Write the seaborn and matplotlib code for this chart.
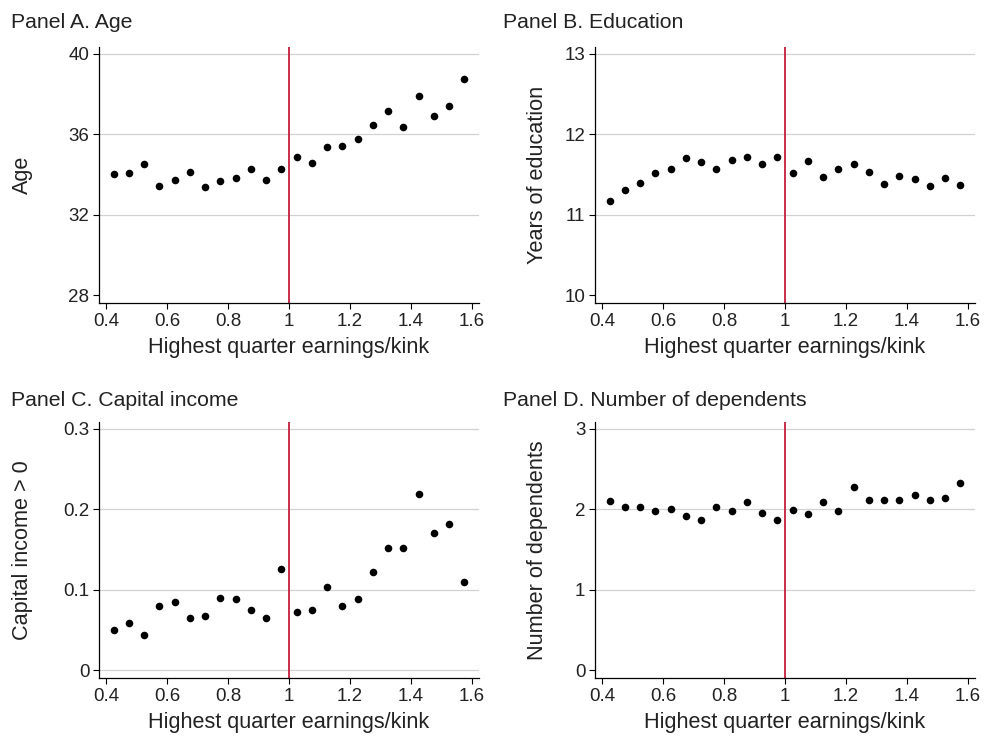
import numpy as np
import pandas as pd
import seaborn as sns
import matplotlib.pyplot as plt

# bin midpoints: highest quarter earnings / kink
earn_bins = [0.425, 0.475, 0.525, 0.575, 0.625, 0.675, 0.725, 0.775,
             0.825, 0.875, 0.925, 0.975, 1.025, 1.075, 1.125, 1.175,
             1.225, 1.275, 1.325, 1.375, 1.425, 1.475, 1.525, 1.575]

age = [34.02, 34.07, 34.51, 33.44, 33.71, 34.09, 33.36, 33.69,
       33.81, 34.24, 33.71, 34.27, 34.85, 34.57, 35.37, 35.40,
       35.75, 36.45, 37.16, 36.35, 37.88, 36.90, 37.41, 38.71]

education = [11.17, 11.31, 11.39, 11.51, 11.57, 11.70, 11.65, 11.57,
             11.68, 11.72, 11.63, 11.72, 11.51, 11.66, 11.46, 11.56,
             11.63, 11.53, 11.38, 11.48, 11.44, 11.36, 11.45, 11.37]

capital_income = [0.050, 0.058, 0.044, 0.080, 0.085, 0.065, 0.067, 0.090,
                  0.088, 0.075, 0.065, 0.125, 0.072, 0.075, 0.103, 0.080,
                  0.088, 0.122, 0.152, 0.152, 0.219, 0.170, 0.182, 0.109]

dependents = [2.095, 2.025, 2.025, 1.971, 1.996, 1.917, 1.859, 2.029,
              1.979, 2.091, 1.950, 1.867, 1.983, 1.934, 2.087, 1.975,
              2.274, 2.108, 2.108, 2.108, 2.170, 2.112, 2.141, 2.328]

x_ticks = [0.4, 0.6, 0.8, 1.0, 1.2, 1.4, 1.6]
x_ticklabels = ["0.4", "0.6", "0.8", "1", "1.2", "1.4", "1.6"]

panels = [
    ("Panel A. Age", "Age", age, [28, 32, 36, 40], ["28", "32", "36", "40"], [32, 36, 40]),
    ("Panel B. Education", "Years of education", education, [10, 11, 12, 13], ["10", "11", "12", "13"], [11, 12, 13]),
    ("Panel C. Capital income", "Capital income > 0", capital_income, [0, 0.1, 0.2, 0.3], ["0", "0.1", "0.2", "0.3"], [0, 0.1, 0.2, 0.3]),
    ("Panel D. Number of dependents", "Number of dependents", dependents, [0, 1, 2, 3], ["0", "1", "2", "3"], [1, 2, 3]),
]

sns.set_theme(style="white")
plt.rcParams["font.family"] = ["Liberation Sans", "DejaVu Sans"]

W, H = 984, 736
fig = plt.figure(figsize=(W / 100, H / 100), dpi=100)

# axes boxes in pixels: left, top, width, height
boxes = [(99, 47, 380, 256), (595, 47, 380, 256),
         (99, 422, 380, 256), (595, 422, 380, 256)]
title_pos = [(11, 28), (503, 28), (11, 406), (503, 406)]
# right edge of the y label, pixels left of the spine
ylabel_gap = [66, 47, 66, 47]

red = "#c41e3a"
text_col = "#222222"

for (title, ylab, vals, yt, ytl, grid_vals), (l, t, w, h), (tx, ty), gap in zip(panels, boxes, title_pos, ylabel_gap):
    ax = fig.add_axes([l / W, 1 - (t + h) / H, w / W, h / H])
    df = pd.DataFrame({"x": earn_bins, "y": vals})

    rng = yt[-1] - yt[0]
    ax.set_ylim(yt[0] - 0.033 * rng, yt[-1] + 0.027 * rng)
    ax.set_xlim(0.377, 1.623)

    for g in grid_vals:
        ax.axhline(g, color="#d2d2d2", lw=0.9, zorder=0)
    ax.axvline(1.0, color=red, lw=1.3, zorder=1)

    sns.scatterplot(data=df, x="x", y="y", ax=ax, color="black", s=30,
                    edgecolor="black", linewidth=0, zorder=3)

    ax.set_xticks(x_ticks)
    ax.set_xticklabels(x_ticklabels)
    ax.set_yticks(yt)
    ax.set_yticklabels(ytl)
    ax.tick_params(axis="both", direction="out", length=4, width=0.8,
                   color="black", labelsize=13.5, labelcolor=text_col, pad=3,
                   bottom=True, left=True)

    for side in ["top", "right"]:
        ax.spines[side].set_visible(False)
    for side in ["left", "bottom"]:
        ax.spines[side].set_color("black")
        ax.spines[side].set_linewidth(0.9)

    ax.set_xlabel("Highest quarter earnings/kink", fontsize=15.6, color=text_col, labelpad=5)
    ax.set_ylabel(ylab, fontsize=15.6, color=text_col)
    ax.yaxis.set_label_coords(-gap / w, 0.5)

    fig.text(tx / W, 1 - ty / H, title, fontsize=15.3, color=text_col,
             ha="left", va="baseline")

fig.savefig("out.png", dpi=100)
